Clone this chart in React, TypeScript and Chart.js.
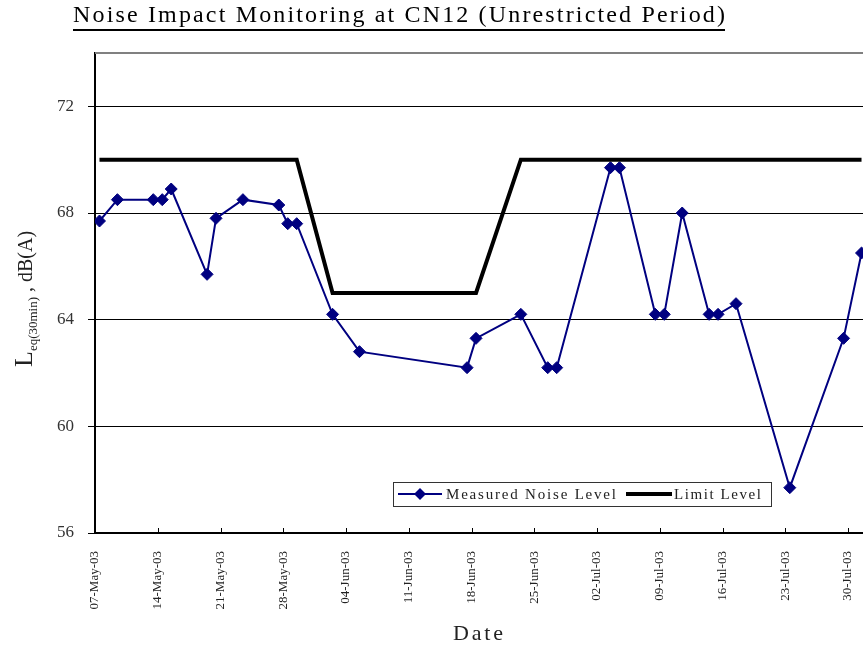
import React, { useEffect, useRef } from 'react';
import { Chart, registerables } from 'chart.js';

Chart.register(...registerables);

// ---------- data ----------
const TITLE = 'Noise Impact Monitoring at CN12 (Unrestricted Period)';
const X_TITLE = 'Date';
const Y_TITLE_MAIN = 'L';
const Y_TITLE_SUB = 'eq(30min)';
const Y_TITLE_REST = ' , dB(A)';
const SERIES_NAMES = ['Measured Noise Level', 'Limit Level'];

const DATES = [
  '07-May-03', '09-May-03', '13-May-03', '14-May-03', '15-May-03', '19-May-03',
  '20-May-03', '23-May-03', '27-May-03', '28-May-03', '29-May-03', '02-Jun-03',
  '05-Jun-03', '17-Jun-03', '18-Jun-03', '23-Jun-03', '26-Jun-03', '27-Jun-03',
  '03-Jul-03', '04-Jul-03', '08-Jul-03', '09-Jul-03', '11-Jul-03', '14-Jul-03',
  '15-Jul-03', '17-Jul-03', '23-Jul-03', '29-Jul-03', '31-Jul-03',
];
const MEASURED = [
  67.7, 68.5, 68.5, 68.5, 68.9, 65.7,
  67.8, 68.5, 68.3, 67.6, 67.6, 64.2,
  62.8, 62.2, 63.3, 64.2, 62.2, 62.2,
  69.7, 69.7, 64.2, 64.2, 68.0, 64.2,
  64.2, 64.6, 57.7, 63.3, 66.5,
];
const LIMIT = [
  70, 70, 70, 70, 70, 70,
  70, 70, 70, 70, 70, 65,
  65, 65, 65, 70, 70, 70,
  70, 70, 70, 70, 70, 70,
  70, 70, 70, 70, 70,
];
const X_TICK_LABELS = [
  '07-May-03', '14-May-03', '21-May-03', '28-May-03', '04-Jun-03', '11-Jun-03',
  '18-Jun-03', '25-Jun-03', '02-Jul-03', '09-Jul-03', '16-Jul-03', '23-Jul-03', '30-Jul-03',
];
const X_AXIS_START = '07-May-03';
const X_AXIS_END = '01-Aug-03';
const Y_TICKS = [56, 60, 64, 68, 72];
const Y_MIN = 56;
const Y_MAX = 74;

// ---------- helpers ----------
const MONTHS: Record<string, number> = {
  Jan: 0, Feb: 1, Mar: 2, Apr: 3, May: 4, Jun: 5, Jul: 6, Aug: 7, Sep: 8, Oct: 9, Nov: 10, Dec: 11,
};
function dayNum(s: string): number {
  const [d, m, y] = s.split('-');
  return Date.UTC(2000 + Number(y), MONTHS[m], Number(d)) / 86400000;
}
const START_DAY = dayNum(X_AXIS_START);
const toX = (s: string) => dayNum(s) - START_DAY;
// Points sit in the middle of their day (date axis, "between tick marks")
const DAY_CENTER = 0.5;

const SERIF = '"Liberation Serif", "DejaVu Serif", serif';
const NAVY = '#000080';

function drawSpaced(ctx: CanvasRenderingContext2D, text: string, x0: number, x1: number, y: number, font: string, color: string) {
  ctx.save();
  ctx.font = font;
  ctx.fillStyle = color;
  ctx.textBaseline = 'alphabetic';
  ctx.textAlign = 'left';
  const chars = Array.from(text);
  const widths = chars.map((c) => ctx.measureText(c).width);
  const total = widths.reduce((a, b) => a + b, 0);
  const ls = chars.length > 1 ? (x1 - x0 - total) / (chars.length - 1) : 0;
  let x = x0;
  chars.forEach((c, i) => {
    ctx.fillText(c, x, y);
    x += widths[i] + ls;
  });
  ctx.restore();
}

const decorPlugin = {
  id: 'decor',
  afterDraw(chart: any) {
    const ctx: CanvasRenderingContext2D = chart.ctx;
    const area = chart.chartArea;
    const xScale = chart.scales.x;

    // top border of plot area (gray)
    ctx.save();
    ctx.strokeStyle = '#808080';
    ctx.lineWidth = 2;
    ctx.beginPath();
    ctx.moveTo(area.left, area.top);
    ctx.lineTo(area.right, area.top);
    ctx.stroke();
    ctx.restore();

    // inner tick marks on x axis
    ctx.save();
    ctx.strokeStyle = '#000';
    ctx.lineWidth = 1;
    xScale.ticks.forEach((t: any) => {
      const px = Math.round(xScale.getPixelForValue(t.value)) + 0.5;
      ctx.beginPath();
      ctx.moveTo(px, area.bottom);
      ctx.lineTo(px, area.bottom - 5);
      ctx.stroke();
    });
    ctx.restore();

    // title (underlined)
    drawSpaced(ctx, TITLE, 73, 725, 22, `24px ${SERIF}`, '#000');
    ctx.save();
    ctx.fillStyle = '#000';
    ctx.fillRect(73, 29, 652, 2);
    ctx.restore();

    // x title
    drawSpaced(ctx, X_TITLE, 453, 503, 640, `22px ${SERIF}`, '#222');

    // y title (rotated)
    ctx.save();
    ctx.translate(32, 367);
    ctx.rotate(-Math.PI / 2);
    ctx.fillStyle = '#222';
    ctx.textBaseline = 'alphabetic';
    ctx.textAlign = 'left';
    let pos = 0;
    ctx.font = `26px ${SERIF}`;
    ctx.fillText(Y_TITLE_MAIN, pos, 0);
    pos += ctx.measureText(Y_TITLE_MAIN).width;
    ctx.font = `13px ${SERIF}`;
    ctx.fillText(Y_TITLE_SUB, pos, 5);
    pos += ctx.measureText(Y_TITLE_SUB).width;
    ctx.font = `20px ${SERIF}`;
    ctx.fillText(Y_TITLE_REST, pos, 0);
    ctx.restore();

    // legend
    ctx.save();
    ctx.fillStyle = '#fff';
    ctx.fillRect(393, 482, 378, 24);
    ctx.strokeStyle = '#333';
    ctx.lineWidth = 1;
    ctx.strokeRect(393.5, 482.5, 378, 24);
    ctx.strokeStyle = NAVY;
    ctx.lineWidth = 2;
    ctx.beginPath();
    ctx.moveTo(398, 494);
    ctx.lineTo(442, 494);
    ctx.stroke();
    ctx.fillStyle = NAVY;
    ctx.beginPath();
    ctx.moveTo(420, 488);
    ctx.lineTo(426, 494);
    ctx.lineTo(420, 500);
    ctx.lineTo(414, 494);
    ctx.closePath();
    ctx.fill();
    ctx.strokeStyle = '#000';
    ctx.lineWidth = 4;
    ctx.beginPath();
    ctx.moveTo(626, 494);
    ctx.lineTo(672, 494);
    ctx.stroke();
    ctx.restore();
    drawSpaced(ctx, SERIES_NAMES[0], 446, 616, 499, `15px ${SERIF}`, '#222');
    drawSpaced(ctx, SERIES_NAMES[1], 674, 761, 499, `15px ${SERIF}`, '#222');
  },
};

export default function App() {
  const canvasRef = useRef<HTMLCanvasElement | null>(null);

  useEffect(() => {
    const canvas = canvasRef.current;
    if (!canvas) return;
    const measuredPts = DATES.map((d, i) => ({ x: toX(d) + DAY_CENTER, y: MEASURED[i] }));
    const limitPts = DATES.map((d, i) => ({ x: toX(d) + DAY_CENTER, y: LIMIT[i] }));
    const xTickValues = X_TICK_LABELS.map(toX);

    const chart = new Chart(canvas, {
      type: 'line',
      data: {
        datasets: [
          {
            label: SERIES_NAMES[0],
            data: measuredPts,
            borderColor: NAVY,
            backgroundColor: NAVY,
            borderWidth: 2,
            pointStyle: 'rectRot',
            pointRadius: 6,
            pointBackgroundColor: NAVY,
            pointBorderColor: NAVY,
            pointBorderWidth: 1,
            tension: 0,
            order: 1,
          },
          {
            label: SERIES_NAMES[1],
            data: limitPts,
            borderColor: '#000',
            backgroundColor: '#000',
            borderWidth: 4,
            pointRadius: 0,
            tension: 0,
            borderCapStyle: 'butt',
            order: 0,
          },
        ],
      },
      options: {
        responsive: false,
        animation: false,
        devicePixelRatio: 1,
        layout: { autoPadding: false, padding: { top: 53, left: 0, right: 0, bottom: 0 } },
        plugins: {
          legend: { display: false },
          title: { display: false },
          tooltip: { enabled: false },
        },
        scales: {
          x: {
            type: 'linear',
            min: 0,
            max: toX(X_AXIS_END),
            afterBuildTicks: (scale: any) => {
              scale.ticks = xTickValues.map((v) => ({ value: v }));
            },
            afterFit: (scale: any) => {
              scale.height = 113;
              scale.paddingLeft = 0;
              scale.paddingRight = 0;
            },
            ticks: {
              autoSkip: false,
              maxRotation: 90,
              minRotation: 90,
              padding: 18,
              color: '#222',
              font: { family: SERIF, size: 13 },
              callback: (_v: any, i: number) => X_TICK_LABELS[i],
            },
            grid: { display: true, drawOnChartArea: false, drawTicks: false },
            border: { display: true, color: '#000', width: 2 },
          },
          y: {
            type: 'linear',
            min: Y_MIN,
            max: Y_MAX,
            afterBuildTicks: (scale: any) => {
              scale.ticks = Y_TICKS.map((v) => ({ value: v }));
            },
            afterFit: (scale: any) => {
              scale.width = 95;
              scale.paddingTop = 0;
              scale.paddingBottom = 0;
            },
            ticks: {
              padding: 14,
              color: '#333',
              font: { family: SERIF, size: 17 },
              callback: (v: any) => String(v),
            },
            grid: { color: '#000', lineWidth: 1, tickLength: 7, drawTicks: true },
            border: { display: true, color: '#000', width: 2 },
          },
        },
      },
      plugins: [decorPlugin],
    });
    return () => chart.destroy();
  }, []);

  return (
    <div style={{ position: 'absolute', left: 0, top: 0, width: 863, height: 646, overflow: 'hidden', background: '#fff' }}>
      <canvas ref={canvasRef} width={866} height={646} style={{ display: 'block' }} />
    </div>
  );
}
